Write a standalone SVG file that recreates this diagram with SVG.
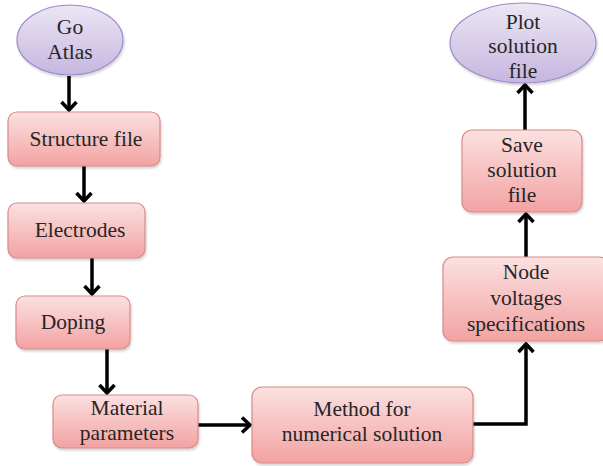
<svg xmlns="http://www.w3.org/2000/svg" width="603" height="466" viewBox="0 0 603 466">
<defs>
<linearGradient id="boxG" x1="0" y1="0" x2="0" y2="1">
<stop offset="0" stop-color="#fbe1e1"/>
<stop offset="1" stop-color="#f3a2a2"/>
</linearGradient>
<linearGradient id="ellG" x1="0" y1="0" x2="0" y2="1">
<stop offset="0" stop-color="#ece6f4"/>
<stop offset="1" stop-color="#c6b6e0"/>
</linearGradient>
<marker id="arr" markerUnits="userSpaceOnUse" viewBox="-12 -10 14 20" refX="0" refY="0" markerWidth="14" markerHeight="20" orient="auto">
<path d="M-8,-7.5 L0,0 L-8,7.5" fill="none" stroke="#000" stroke-width="3.5" stroke-linejoin="miter"/>
</marker>
<filter id="sh" x="-10%" y="-10%" width="130%" height="140%">
<feDropShadow dx="1" dy="2" stdDeviation="1.2" flood-color="#000" flood-opacity="0.18"/>
</filter>
</defs>
<style>
.box{fill:url(#boxG);stroke:#d98a8a;stroke-width:1.2;filter:url(#sh)}
.ell{fill:url(#ellG);stroke:#9d8ac9;stroke-width:1.2;filter:url(#sh)}
text{font-family:"Liberation Serif","Times New Roman",serif;font-size:21.5px;fill:#262626;text-anchor:middle}
.c{fill:none;stroke:#000;stroke-width:3.5;marker-end:url(#arr)}
</style>
<g id="connectors">
<line class="c" x1="69" y1="76" x2="69" y2="110"/>
<line class="c" x1="84" y1="166" x2="84" y2="201"/>
<line class="c" x1="92" y1="258" x2="92" y2="294"/>
<line class="c" x1="107" y1="349" x2="107" y2="393"/>
<line class="c" x1="198" y1="425" x2="250" y2="425"/>
<polyline class="c" points="473,424 526,424 526,344"/>
<line class="c" x1="526" y1="257" x2="526" y2="214"/>
<line class="c" x1="525" y1="130" x2="525" y2="85"/>
</g>
<g id="go-atlas">
<ellipse class="ell" cx="70" cy="40" rx="53" ry="35"/>
<text x="70" y="34">Go</text>
<text x="70" y="59">Atlas</text>
</g>
<g id="structure-file">
<rect class="box" x="8" y="112" width="152" height="54" rx="9"/>
<text x="86" y="146">Structure file</text>
</g>
<g id="electrodes">
<rect class="box" x="8" y="203" width="137" height="55" rx="9"/>
<text x="80" y="237">Electrodes</text>
</g>
<g id="doping">
<rect class="box" x="16" y="296" width="114" height="53" rx="9"/>
<text x="73" y="329">Doping</text>
</g>
<g id="material-parameters">
<rect class="box" x="53" y="395" width="145" height="53" rx="9"/>
<text x="127" y="415">Material</text>
<text x="127" y="440">parameters</text>
</g>
<g id="method">
<rect class="box" x="252" y="387" width="221" height="76" rx="10"/>
<text x="362" y="416">Method for</text>
<text x="362" y="441">numerical solution</text>
</g>
<g id="node-voltages">
<rect class="box" x="443" y="257" width="166" height="84" rx="10"/>
<text x="526" y="279">Node</text>
<text x="526" y="305">voltages</text>
<text x="526" y="331">specifications</text>
</g>
<g id="save-solution">
<rect class="box" x="462" y="130" width="120" height="82" rx="10"/>
<text x="522" y="152">Save</text>
<text x="522" y="177">solution</text>
<text x="522" y="202">file</text>
</g>
<g id="plot-solution">
<ellipse class="ell" cx="523" cy="43" rx="73" ry="40"/>
<text x="523" y="29">Plot</text>
<text x="523" y="53">solution</text>
<text x="523" y="78">file</text>
</g>
</svg>
